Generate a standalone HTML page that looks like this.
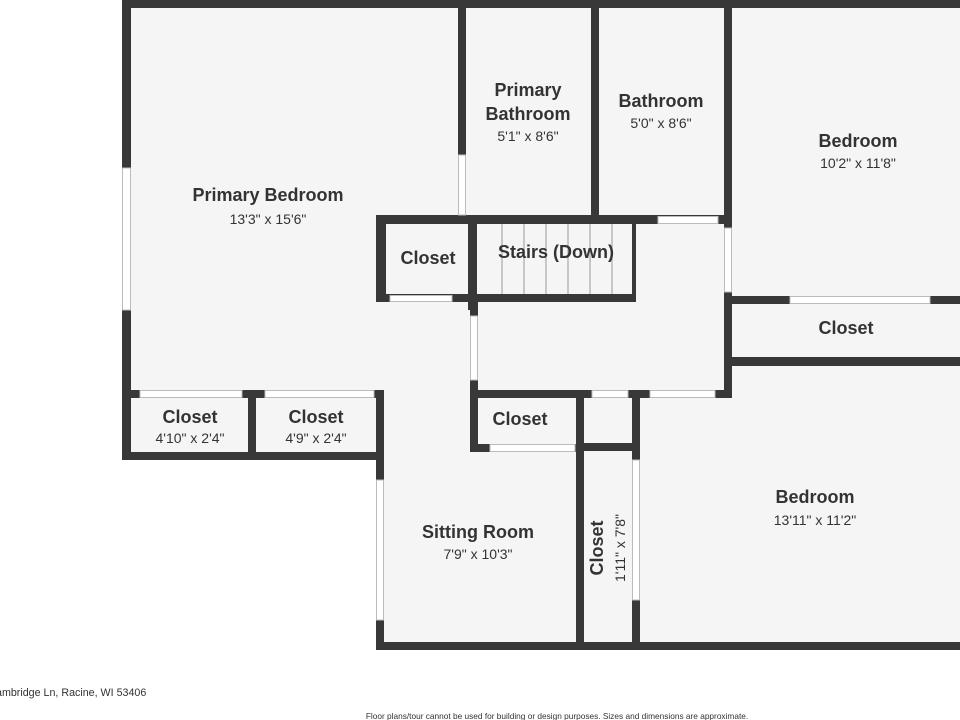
<!DOCTYPE html>
<html><head><style>body{margin:0;background:#fff}svg{display:block}text{font-family:"Liberation Sans",sans-serif;fill:#333}</style></head><body>
<svg width="960" height="720" viewBox="0 0 960 720">
<rect x="122" y="0" width="838" height="460" fill="#f5f5f5"/>
<rect x="376" y="390" width="584" height="260" fill="#f5f5f5"/>
<g fill="#383838">
<rect x="122" y="0" width="838" height="8"/>
<rect x="122" y="0" width="9" height="460"/>
<rect x="458" y="0" width="8" height="224"/>
<rect x="591" y="0" width="8" height="224"/>
<rect x="724" y="0" width="8" height="398"/>
<rect x="376" y="215" width="356" height="9"/>
<rect x="376" y="215" width="10" height="87"/>
<rect x="376" y="294" width="260" height="8"/>
<rect x="468" y="215" width="9" height="95"/>
<rect x="632" y="224" width="4" height="78"/>
<rect x="470" y="302" width="8" height="96"/>
<rect x="470" y="390" width="262" height="8"/>
<rect x="732" y="296" width="228" height="8"/>
<rect x="732" y="357" width="228" height="9"/>
<rect x="632" y="390" width="8" height="260"/>
<rect x="576" y="398" width="8" height="252"/>
<rect x="576" y="443" width="64" height="8"/>
<rect x="470" y="398" width="8" height="54"/>
<rect x="470" y="444" width="114" height="8"/>
<rect x="122" y="390" width="262" height="8"/>
<rect x="248" y="390" width="8" height="70"/>
<rect x="122" y="452" width="262" height="8"/>
<rect x="376" y="390" width="8" height="260"/>
<rect x="376" y="642" width="584" height="8"/>
</g>
<g fill="#fff" stroke="#bbb" stroke-width="1">
<rect x="122.5" y="168" width="8" height="142"/>
<rect x="458.5" y="155" width="7" height="60"/>
<rect x="658" y="216.5" width="60" height="7"/>
<rect x="724.5" y="228" width="7" height="64"/>
<rect x="390" y="295.5" width="62" height="6"/>
<rect x="470.5" y="316" width="7" height="64"/>
<rect x="592" y="390.5" width="36" height="7"/>
<rect x="650" y="390.5" width="65" height="7"/>
<rect x="790" y="296.5" width="140" height="7"/>
<rect x="632.5" y="460" width="7" height="140"/>
<rect x="490" y="444.5" width="85" height="7"/>
<rect x="140" y="390.5" width="102" height="7"/>
<rect x="265" y="390.5" width="109" height="7"/>
<rect x="376.5" y="480" width="7" height="140"/>
</g>
<g stroke="#999" stroke-width="1">
<line x1="502" y1="224" x2="502" y2="294"/><line x1="524" y1="224" x2="524" y2="294"/>
<line x1="546" y1="224" x2="546" y2="294"/><line x1="568" y1="224" x2="568" y2="294"/>
<line x1="590" y1="224" x2="590" y2="294"/><line x1="612" y1="224" x2="612" y2="294"/>
</g>
<g text-anchor="middle" font-weight="bold" font-size="18">
<text x="268" y="201">Primary Bedroom</text>
<text x="528" y="96">Primary</text><text x="528" y="120">Bathroom</text>
<text x="661" y="107">Bathroom</text>
<text x="858" y="147">Bedroom</text>
<text x="428" y="264">Closet</text>
<text x="556" y="258">Stairs (Down)</text>
<text x="846" y="334">Closet</text>
<text x="190" y="423">Closet</text>
<text x="316" y="423">Closet</text>
<text x="520" y="425">Closet</text>
<text x="815" y="503">Bedroom</text>
<text x="478" y="538">Sitting Room</text>
<text transform="translate(603,548) rotate(-90)">Closet</text>
</g>
<g text-anchor="middle" font-size="14">
<text x="268" y="224">13'3" x 15'6"</text>
<text x="528" y="141">5'1" x 8'6"</text>
<text x="661" y="128">5'0" x 8'6"</text>
<text x="858" y="168">10'2" x 11'8"</text>
<text x="190" y="443">4'10" x 2'4"</text>
<text x="316" y="443">4'9" x 2'4"</text>
<text x="815" y="525">13'11" x 11'2"</text>
<text x="478" y="559">7'9" x 10'3"</text>
<text transform="translate(625,548) rotate(-90)">1'11" x 7'8"</text>
</g>
<text x="-4" y="696" font-size="10.7">ambridge Ln, Racine, WI 53406</text>
<text x="557" y="719" font-size="8.3" text-anchor="middle">Floor plans/tour cannot be used for building or design purposes. Sizes and dimensions are approximate.</text>
</svg>
</body></html>
